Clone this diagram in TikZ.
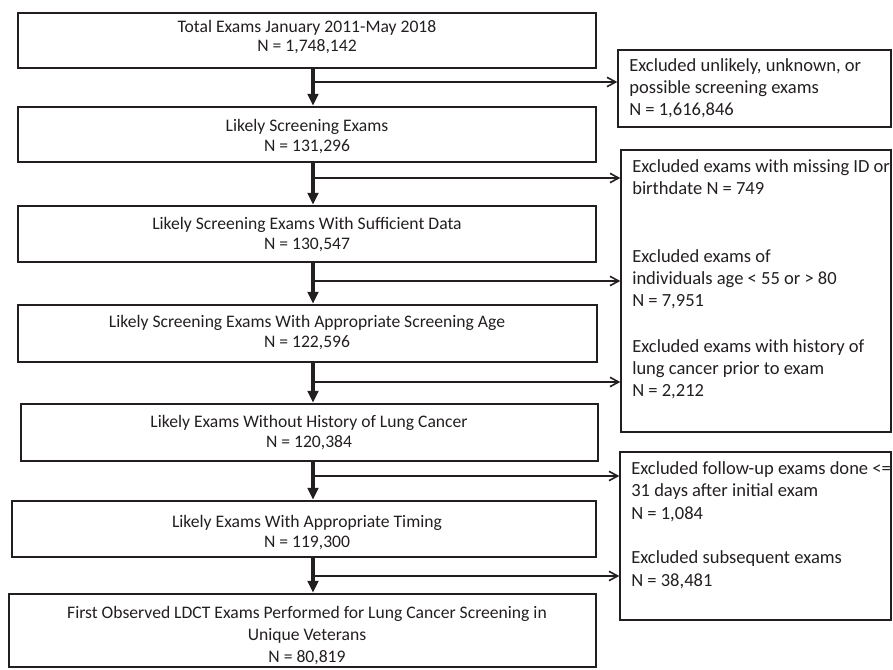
\documentclass[tikz,border=0pt]{standalone}
\usepackage{fontspec}
\setmainfont{Carlito}
\usepackage{xcolor}
\usepackage{tikz}
\usetikzlibrary{arrows.meta}
\usetikzlibrary{calc, fit}
\definecolor{ink}{RGB}{35,31,32}
\tikzstyle{stage}=[rectangle, draw=ink, line width=1.8pt, inner sep=0pt]
\tikzstyle{stagetext}=[inner sep=0pt, anchor=base, align=center, text=ink, font=\fontsize{13.2pt}{15pt}\selectfont]
\tikzstyle{dropbox}=[rectangle, draw=ink, line width=1pt, inner sep=0pt]
\tikzstyle{droptext}=[inner sep=0pt, anchor=base west, align=left, text=ink, font=\fontsize{13.9pt}{16.7pt}\selectfont]

\begin{document}
\begin{tikzpicture}[x=0.75pt, y=-0.75pt]

\tikzset{trunk/.style={draw=ink, line width=2.6pt, -{Triangle[length=9pt, width=8pt]}}}
\tikzset{branch/.style={draw=ink, line width=1.2pt, -{Straight Barb[length=6.5pt, width=7pt]}}}

\useasboundingbox (0,0) rectangle (893,670);

% Main column
\node (total) [stage, fit={(18,13) (596,68)}] {};
\node (likely) [stage, fit={(18,107) (596,162)}] {};
\node (sufficient) [stage, fit={(18,206) (596,262)}] {};
\node (agefit) [stage, fit={(18,305) (597,362)}] {};
\node (nohistory) [stage, fit={(21,404) (598,461)}] {};
\node (timing) [stage, fit={(12,501) (596,557)}] {};
\node (firstldct) [stage, fit={(9,594) (596,667)}] {};

% texts, anchored on the last line
\node (totaltxt) [stagetext, font=\fontsize{13.2pt}{14.3pt}\selectfont] at (307,52) {Total Exams January 2011-May 2018\\N = 1,748,142};
\node (likelytxt) [stagetext] at (307,152) {Likely Screening Exams\\N = 131,296};
\node (sufficienttxt) [stagetext] at (307,250) {Likely Screening Exams With Sufficient Data\\N = 130,547};
\node (agefittxt) [stagetext] at (307,348) {Likely Screening Exams With Appropriate Screening Age\\N = 122,596};
\node (nohistorytxt) [stagetext] at (309,447) {Likely Exams Without History of Lung Cancer\\N = 120,384};
\node (timingtxt) [stagetext] at (307,547) {Likely Exams With Appropriate Timing\\N = 119,300};
\node (firstldcttxt) [stagetext, font=\fontsize{13.2pt}{16.5pt}\selectfont] at (307,662) {First Observed LDCT Exams Performed for Lung Cancer Screening in\\Unique Veterans\\N = 80,819};

% Exclusion boxes
\node (drop1) [dropbox, fit={(618,50) (891,127)}] {};
\node (drop2) [dropbox, fit={(621,150) (891,432)}] {};
\node (drop3) [dropbox, fit={(620,452) (891,620)}] {};

\node (note1) [droptext] at (629,116) {Excluded unlikely, unknown, or\\possible screening exams\\N = 1,616,846};
\node (note2) [droptext] at (632,195) {Excluded exams with missing ID or\\birthdate N = 749};
\node (note3) [droptext] at (632,307) {Excluded exams of\\individuals age < 55 or > 80\\N = 7,951};
\node (note4) [droptext] at (632,397) {Excluded exams with history of\\lung cancer prior to exam\\N = 2,212};
\node (note5) [droptext] at (631,519) {Excluded follow-up exams done <=\\31 days after initial exam\\N = 1,084};
\node (note6) [droptext] at (631,586) {Excluded subsequent exams\\N = 38,481};

\coordinate (spine) at (313,0);
\coordinate (cut1) at (313,82);
\coordinate (cut2) at (313,178);
\coordinate (cut3) at (313,281);
\coordinate (cut4) at (313,382);
\coordinate (cut5) at (313,476);
\coordinate (cut6) at (313,576);

\draw[trunk] (total.south -| spine) -- (likely.north -| spine); % total -> likely
\draw[trunk] (likely.south -| spine) -- (sufficient.north -| spine); % likely -> sufficient
\draw[trunk] (sufficient.south -| spine) -- (agefit.north -| spine); % sufficient -> age
\draw[trunk] (agefit.south -| spine) -- (nohistory.north -| spine); % age -> no history
\draw[trunk] (nohistory.south -| spine) -- (timing.north -| spine); % no history -> timing
\draw[trunk] (timing.south -| spine) -- (firstldct.north -| spine); % timing -> first ldct

\draw[branch] (cut1) -- (cut1 -| drop1.west);
\draw[branch] (cut2) -- (cut2 -| drop2.west);
\draw[branch] (cut3) -- (cut3 -| drop2.west);
\draw[branch] (cut4) -- (cut4 -| drop2.west);
\draw[branch] (cut5) -- (cut5 -| drop3.west);
\draw[branch] (cut6) -- (cut6 -| drop3.west);

\end{tikzpicture}
\end{document}
